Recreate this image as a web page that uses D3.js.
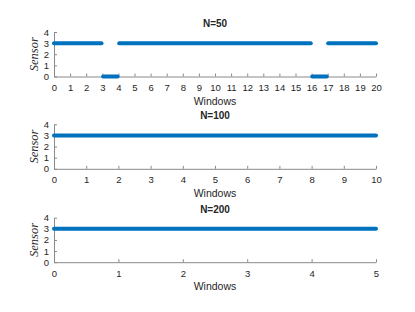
<!DOCTYPE html>
<meta charset="utf-8">
<style>
  body { margin: 0; background: #fff; }
  text { font-family: "Liberation Sans", Arial, sans-serif; fill: #262626; }
  .title { font-weight: bold; font-size: 10px; }
  .ylab { font-family: "Liberation Serif", "Times New Roman", serif; font-style: italic; font-size: 12.5px; }
</style>
<body>
<div id="canvas"></div>
<script src="https://d3js.org/d3.v7.min.js"></script>
<script>

// panel titles and x extents
var titles = ["N=50", "N=100", "N=200"];
var xMax = [20, 10, 5];
var yTicks = [0, 1, 2, 3, 4];

// sensor readings as runs: [from window, to window, sensor]
var runs50 = [[0, 2.95, 3], [3.05, 3.95, 0], [4.05, 15.95, 3], [16.04, 16.94, 0], [17.03, 20, 3]];
var runs100 = [[0, 10, 3]];
var runs200 = [[0, 5, 3]];
var allRuns = [runs50, runs100, runs200];

var left = 54, right = 376;
var panelTop = [32, 124.3, 217.7];
var panelH = 44.5;

var svg = d3.select("#canvas").append("svg")
    .attr("width", 415)
    .attr("height", 312);

svg.append("rect").attr("width", 415).attr("height", 312).attr("fill", "#fff");

titles.forEach(function(t, i) {
    var g = svg.append("g").attr("transform", "translate(0," + panelTop[i] + ")");

    var x = d3.scaleLinear().domain([0, xMax[i]]).range([left, right]);
    var y = d3.scaleLinear().domain([0, 4]).range([panelH, 0]);

    var xAxis = g.append("g")
        .attr("transform", "translate(0," + panelH + ")")
        .call(d3.axisBottom(x).tickValues(d3.range(0, xMax[i] + 1)).tickFormat(d3.format("d"))
            .tickSizeInner(-3).tickSizeOuter(0));

    var yAxis = g.append("g")
        .attr("transform", "translate(" + left + ",0)")
        .call(d3.axisLeft(y).tickValues(yTicks).tickFormat(d3.format("d"))
            .tickSizeInner(-3).tickSizeOuter(0).tickPadding(5));

    [xAxis, yAxis].forEach(function(a) {
        a.select(".domain").attr("stroke", "#8a8a8a").attr("stroke-width", 1);
        a.selectAll(".tick line").attr("stroke", "#8a8a8a");
        a.selectAll(".tick text").attr("font-size", 9.5).attr("fill", "#262626")
            .attr("font-family", "Liberation Sans, Arial, sans-serif");
    });
    xAxis.selectAll(".tick text").attr("dy", null).attr("y", 14.5);

    g.selectAll("line.run")
        .data(allRuns[i])
        .enter().append("line")
        .attr("class", "run")
        .attr("x1", function(d) { return x(d[0]); })
        .attr("x2", function(d) { return x(d[1]); })
        .attr("y1", function(d) { return y(d[2]); })
        .attr("y2", function(d) { return y(d[2]); })
        .attr("stroke", "#0072BD")
        .attr("stroke-width", 4)
        .attr("stroke-linecap", "round");

    g.append("text")
        .attr("class", "title")
        .attr("x", (left + right) / 2)
        .attr("y", -5)
        .attr("text-anchor", "middle")
        .text(t);

    g.append("text")
        .attr("x", (left + right) / 2)
        .attr("y", panelH + 28)
        .attr("text-anchor", "middle")
        .attr("font-size", 10.5)
        .text("Windows");

    g.append("text")
        .attr("class", "ylab")
        .attr("transform", "translate(38," + (panelH / 2) + ") rotate(-90)")
        .attr("text-anchor", "middle")
        .text("Sensor");
});

</script>
</body>
